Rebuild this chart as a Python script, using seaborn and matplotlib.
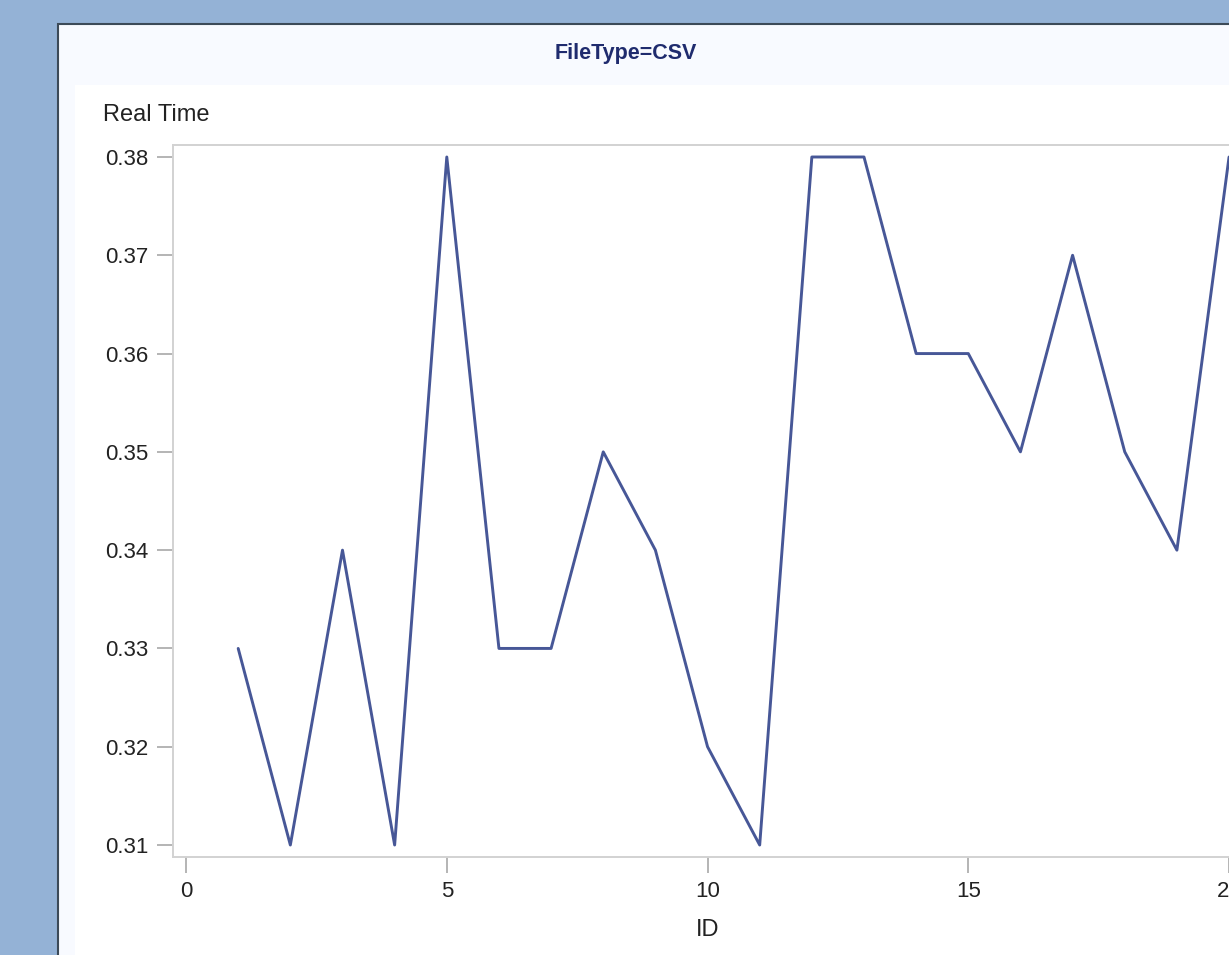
import pandas as pd
import matplotlib.pyplot as plt
import matplotlib.patches as mpatches
import seaborn as sns

# ========================
# Data
# ========================
ids = list(range(1, 21))
real_time = [0.33, 0.31, 0.34, 0.31, 0.38, 0.33, 0.33, 0.35, 0.34, 0.32,
             0.31, 0.38, 0.38, 0.36, 0.36, 0.35, 0.37, 0.35, 0.34, 0.38]
x_ticks = [0, 5, 10, 15, 20]
y_ticks = [0.31, 0.32, 0.33, 0.34, 0.35, 0.36, 0.37, 0.38]

df = pd.DataFrame({'ID': ids, 'Real Time': real_time})

# ========================
# Style
# ========================
sns.set_style("white")
plt.rcParams['font.family'] = ['Liberation Sans', 'DejaVu Sans']

W, H = 1229, 955
fig = plt.figure(figsize=(W / 100, H / 100), dpi=100)
fig.patch.set_facecolor('#94B2D6')

# panel and inner white area (pixel coords -> figure fraction)
def px(x, y):
    return x / W, 1 - y / H

fig.patches.append(mpatches.Rectangle(px(58, 1000), (1300 - 58) / W, (1000 - 24) / H,
                                      transform=fig.transFigure, facecolor='#F8FAFF',
                                      edgecolor='#3C4A58', linewidth=1.5, zorder=-2))
fig.patches.append(mpatches.Rectangle(px(75, 1000), (1300 - 75) / W, (1000 - 85) / H,
                                      transform=fig.transFigure, facecolor='white',
                                      edgecolor='none', zorder=-1))

# ========================
# Plot
# ========================
ax = fig.add_axes([173 / W, 1 - 857 / H, (1240 - 173) / W, (857 - 145) / H])
sns.lineplot(data=df, x='ID', y='Real Time', ax=ax, color='#475797', linewidth=2.1)

ax.set_xlim(-0.25, 20.21)
ax.set_ylim(0.30878, 0.38122)
ax.set_xticks(x_ticks)
ax.set_yticks(y_ticks)
ax.set_yticklabels([f'{v:.2f}' for v in y_ticks])
ax.set_xlabel('')
ax.set_ylabel('')
ax.tick_params(axis='both', length=11.5, width=1.1, color='#A0A0A0',
               labelsize=16, labelcolor='#222222', pad=6, left=True, bottom=True)
for s in ax.spines.values():
    s.set_color('#D2D2D2')
    s.set_linewidth(1.4)

fig.text(626 / W, 1 - 54 / H, 'FileType=CSV', ha='center', va='center',
         fontsize=15.5, fontweight='bold', color='#1F2B6E')
fig.text(103 / W, 1 - 115 / H, 'Real Time', ha='left', va='center',
         fontsize=17, color='#222222')
fig.text(708 / W, 1 - 930 / H, 'ID', ha='center', va='center',
         fontsize=17, color='#222222')

plt.savefig('out.png', dpi=100)
plt.close()
